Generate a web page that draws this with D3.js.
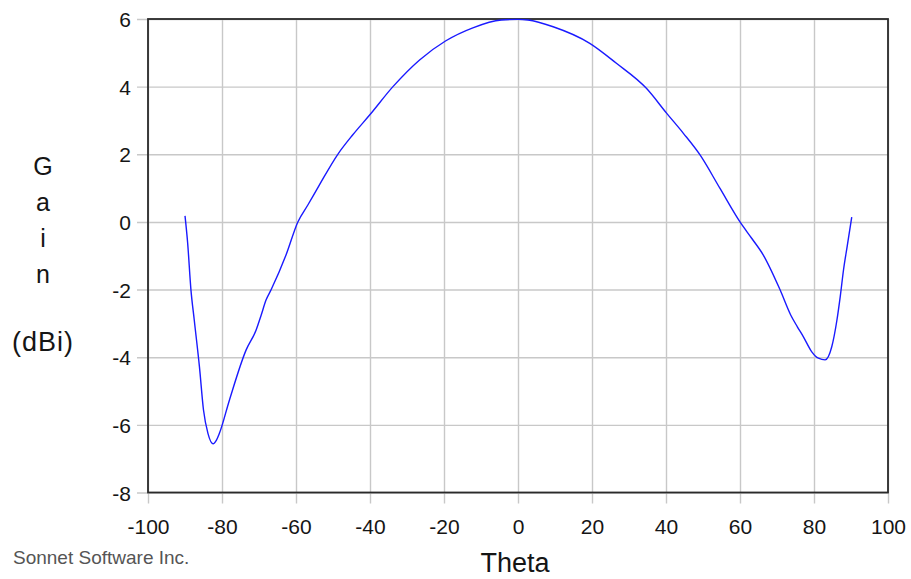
<!DOCTYPE html>
<html>
<head>
<meta charset="utf-8">
<script src="https://cdn.jsdelivr.net/npm/d3@7"></script>
<style>
  html, body { margin: 0; padding: 0; background: #ffffff; }
  svg { display: block; }
  text { font-family: Arial, "Liberation Sans", sans-serif; }
</style>
</head>
<body>
<svg id="chart" width="911" height="579"></svg>
<script>
// ---- data ----
const theta = [-90, -89.3, -88.4, -87.5, -86.1, -85.0, -83.8, -82.4, -81.5, -80.7, -78, -73.5, -70.8,
  -69.4, -68.1, -66.7, -62.7, -59.5, -56.8, -53.7, -48.7, -44.7, -40.1, -33.8, -26.6, -19.6, -12.2,
  -4.5, 0, 2.7, 9.5, 19.4, 26.6, 34.7, 40.2, 44.7, 49.2, 54.6, 60, 63.2, 66.3, 70.8, 73.7, 75.5,
  77.1, 79.4, 81.2, 83.0, 84.8, 86.2, 87.1, 88.0, 89.0, 90.2];
const gain = [0.18, -0.6, -2.0, -2.9, -4.28, -5.56, -6.25, -6.56, -6.45, -6.25, -5.27, -3.79, -3.2,
  -2.75, -2.31, -2.0, -0.98, 0, 0.5, 1.09, 2.0, 2.57, 3.16, 4.0, 4.79, 5.35, 5.74,
  5.97, 5.99, 5.97, 5.77, 5.28, 4.69, 3.95, 3.21, 2.62, 1.98, 0.99, 0, -0.49, -0.98, -2.0, -2.75, -3.1,
  -3.39, -3.84, -4.03, -4.08, -3.69, -2.9, -2.2, -1.4, -0.7, 0.14];
const xTicks = [-100, -80, -60, -40, -20, 0, 20, 40, 60, 80, 100];
const yTicks = [-8, -6, -4, -2, 0, 2, 4, 6];
const yLabelLetters = ["G", "a", "i", "n"];
const yLabelUnit = "(dBi)";
const xLabel = "Theta";
const credit = "Sonnet Software Inc.";

// ---- layout ----
const L = 148, R = 888, T = 19, B = 492.5, ext = 11;
const svg = d3.select("#chart");
const x = d3.scaleLinear().domain([-100, 100]).range([L, R]);
const y = d3.scaleLinear().domain([-8, 6]).range([B, T]);
const fmt = d => String(d);

// grid lines + tick extensions via axes
const gx = svg.append("g")
  .attr("transform", `translate(0,${B + ext})`)
  .call(d3.axisBottom(x).tickValues(xTicks).tickSize(-(B - T + ext)).tickFormat(fmt));
gx.select(".domain").remove();
gx.selectAll(".tick line").attr("stroke", "#c8c8c8").attr("stroke-width", 1.4);
gx.selectAll(".tick text")
  .attr("y", 30.5).attr("dy", 0)
  .attr("fill", "#151515").attr("font-size", 21)
  .attr("font-family", "Arial, 'Liberation Sans', sans-serif");

const gy = svg.append("g")
  .attr("transform", `translate(${L - ext},0)`)
  .call(d3.axisLeft(y).tickValues(yTicks).tickSize(-(R - L + ext)).tickFormat(fmt));
gy.select(".domain").remove();
gy.selectAll(".tick line").attr("stroke", "#c8c8c8").attr("stroke-width", 1.4);
gy.selectAll(".tick text")
  .attr("x", -6).attr("dy", "0.36em")
  .attr("fill", "#151515").attr("font-size", 21)
  .attr("font-family", "Arial, 'Liberation Sans', sans-serif");

// frame
svg.append("rect")
  .attr("x", L).attr("y", T).attr("width", R - L).attr("height", B - T)
  .attr("fill", "none").attr("stroke", "#2a2a2a").attr("stroke-width", 1.8);

// curve
const pts = theta.map((t, i) => [t, gain[i]]);
svg.append("path")
  .datum(pts)
  .attr("fill", "none")
  .attr("stroke", "#1a1aff")
  .attr("stroke-width", 1.4)
  .attr("stroke-linejoin", "round")
  .attr("d", d3.line().x(d => x(d[0])).y(d => y(d[1])).curve(d3.curveMonotoneX));

// y axis label, stacked letters
svg.selectAll("text.ylet")
  .data(yLabelLetters)
  .enter().append("text")
  .attr("class", "ylet")
  .attr("x", 43).attr("y", (d, i) => 175 + i * 36)
  .attr("text-anchor", "middle")
  .attr("font-size", 25).attr("fill", "#151515")
  .text(d => d);
svg.append("text")
  .attr("x", 43).attr("y", 351)
  .attr("text-anchor", "middle")
  .attr("font-size", 27).attr("letter-spacing", 1)
  .attr("fill", "#151515")
  .text(yLabelUnit);

// x axis label
svg.append("text")
  .attr("x", 515).attr("y", 572)
  .attr("text-anchor", "middle")
  .attr("font-size", 27).attr("fill", "#151515")
  .text(xLabel);

// credit
svg.append("text")
  .attr("x", 13).attr("y", 564)
  .attr("font-size", 19).attr("fill", "#555555")
  .text(credit);
</script>
</body>
</html>
